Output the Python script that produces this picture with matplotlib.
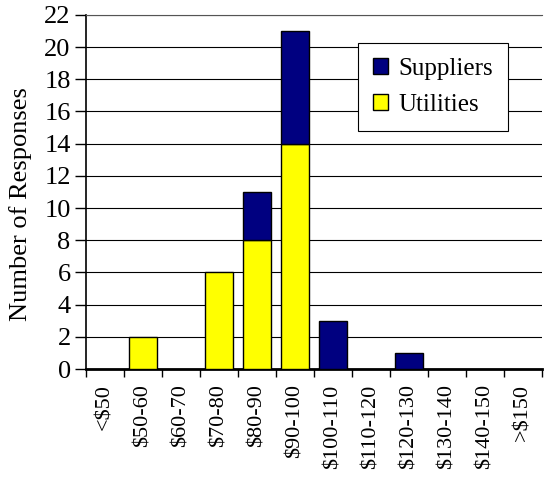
import numpy as np
import matplotlib
matplotlib.use('Agg')
import matplotlib.pyplot as plt
import matplotlib.patches as mpatches

plt.rcParams['font.family'] = ['Liberation Serif', 'DejaVu Serif']
FONT_SIZE = 18

categories = ['<$50', '$50-60', '$60-70', '$70-80', '$80-90', '$90-100', '$100-110',
              '$110-120', '$120-130', '$130-140', '$140-150', '>$150']
utilities = [0, 2, 0, 6, 8, 14, 0, 0, 0, 0, 0, 0]
suppliers = [0, 0, 0, 0, 3, 7, 3, 0, 1, 0, 0, 0]

fig = plt.figure(figsize=(5.44, 4.78), dpi=100)
ax = fig.add_axes([0.158, 0.228, 0.838, 0.741])

x = np.arange(len(categories))
width = 0.74
b1 = ax.bar(x, utilities, width, color='#ffff00', edgecolor='black', linewidth=1, zorder=3)
b2 = ax.bar(x, suppliers, width, bottom=utilities, color='#000080', edgecolor='black', linewidth=1,
            zorder=3)
# hide empty bars so no outline sits on the axis
for p in list(b1) + list(b2):
    if p.get_height() == 0:
        p.set_visible(False)

ax.set_xlim(-0.5, len(categories) - 0.5)
ax.set_ylim(0, 22)
ax.set_yticks(range(0, 23, 2))
ax.yaxis.grid(True, color='black', linewidth=0.8)
ax.set_axisbelow(True)

ax.set_xticks(x)
ax.set_xticklabels(categories, rotation=90, fontsize=FONT_SIZE - 2)
ax.set_xticks(np.arange(-0.5, len(categories)), minor=True)
ax.tick_params(axis='x', which='major', length=0, pad=11)
ax.tick_params(axis='x', which='minor', length=6, width=1, direction='out')
ax.tick_params(axis='y', labelsize=FONT_SIZE + 1, length=8, width=1, direction='out', pad=3)

ax.spines['right'].set_visible(False)
ax.spines['top'].set_color('#555555')
ax.spines['bottom'].set_linewidth(2)
ax.spines['left'].set_linewidth(1.2)

ax.set_ylabel('Number of Responses', fontsize=FONT_SIZE + 1)
ax.yaxis.set_label_coords(-0.118, 0.466)

handles = [mpatches.Patch(facecolor='#000080', edgecolor='black', linewidth=1, label='Suppliers'),
           mpatches.Patch(facecolor='#ffff00', edgecolor='black', linewidth=1, label='Utilities')]
leg = ax.legend(handles=handles, loc='upper right', bbox_to_anchor=(0.925, 0.921), borderaxespad=0,
                fontsize=FONT_SIZE, frameon=True, fancybox=False, edgecolor='black',
                framealpha=1, handlelength=0.6, handleheight=0.6, handletextpad=0.4,
                borderpad=0.6, labelspacing=0.55)
leg.get_frame().set_linewidth(0.8)

fig.savefig('out.png', dpi=100)
